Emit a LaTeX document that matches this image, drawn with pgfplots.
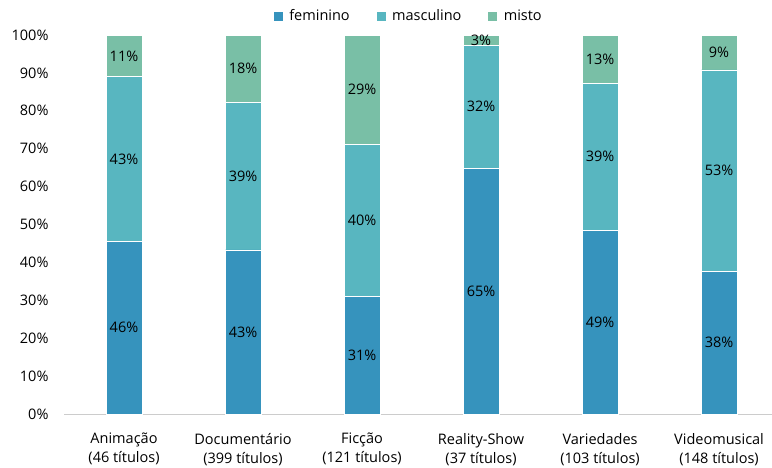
\documentclass[border=0pt]{standalone}
\usepackage{pgfplots}
\usepackage{pgfplotstable}
\pgfplotsset{compat=1.18}
\usepackage{fontspec}
\setmainfont{Open Sans}
\definecolor{cfem}{RGB}{54,147,189}
\definecolor{cmasc}{RGB}{88,182,192}
\definecolor{cmisto}{RGB}{121,191,166}
\pgfplotstableread{
x fem masc misto
0 45.6 43.4 11.0
1 43.3 39.0 17.7
2 31.1 40.1 28.8
3 64.9 32.4 2.7
4 48.5 38.8 12.7
5 37.7 53.1 9.2
}\datatab
\begin{document}
\fontsize{14.5}{17}\selectfont
\begin{tikzpicture}
\path[use as bounding box] (-64.5pt,-53pt) rectangle (707.5pt,414pt);
\begin{axis}[
  at={(0,0)}, anchor=south west,
  scale only axis, width=707.5pt, height=379pt,
  ybar stacked, bar width=36pt,
  xmin=-0.5, xmax=5.445, ymin=0, ymax=100,
  xtick={0,1,2,3,4,5},
  xticklabels={{Animação\\(46 títulos)},{Documentário\\(399 títulos)},{Ficção\\(121 títulos)},{Reality-Show\\(37 títulos)},{Variedades\\(103 títulos)},{Videomusical\\(148 títulos)}},
  xticklabel style={align=center, font=\fontsize{14.5}{19}\selectfont, yshift=-14pt},
  ytick={0,10,...,100},
  yticklabel={\pgfmathprintnumber{\tick}\%},
  yticklabel style={xshift=-11pt},
  /pgf/number format/assume math mode=true,
  axis x line*=bottom, axis y line*=left,
  y axis line style={draw=none},
  x axis line style={draw=black!20, -},
  tick style={draw=none},
  legend style={at={(0.486,1.027)}, anchor=south, draw=none, fill=none, legend columns=-1, font=\fontsize{14.5}{17}\selectfont, inner sep=0pt},
  legend cell align=left,
  /tikz/every even column/.append style={column sep=24pt},
  legend image code/.code={\fill[#1] (0pt,-5pt) rectangle (10pt,5pt); \path (14pt,0pt);},
  point meta=explicit,
  nodes near coords={\pgfmathprintnumber[fixed,precision=0]{\pgfplotspointmeta}\%},
  nodes near coords style={anchor=center, text=black, font=\fontsize{14.5}{17}\selectfont},
]
\addplot[fill=cfem, draw=white, line width=0.4pt] table[x=x, y=fem, meta=fem] {\datatab};
\addplot[fill=cmasc, draw=white, line width=0.4pt] table[x=x, y=masc, meta=masc] {\datatab};
\addplot[fill=cmisto, draw=white, line width=0.4pt] table[x=x, y=misto, meta=misto] {\datatab};
\legend{feminino, masculino, misto}
\end{axis}
\end{tikzpicture}
\end{document}
